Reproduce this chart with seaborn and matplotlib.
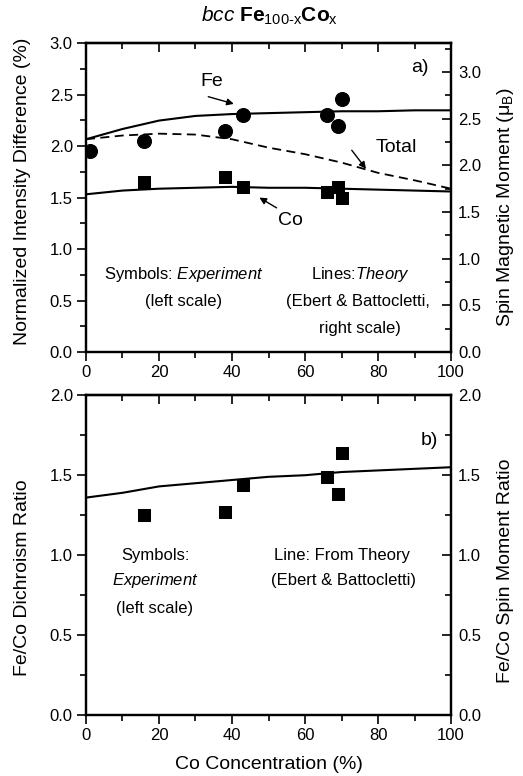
import matplotlib
matplotlib.use('Agg')
import matplotlib.pyplot as plt
import seaborn as sns
from matplotlib.ticker import MultipleLocator

fe_x = [1, 16, 38, 43, 66, 69, 70]
fe_exp = [1.95, 2.05, 2.15, 2.30, 2.30, 2.20, 2.46]
co_x = [16, 38, 43, 66, 69, 70]
co_exp = [1.65, 1.70, 1.60, 1.55, 1.60, 1.50]

# Teoria (escala direita)
x_teo = [0, 10, 20, 30, 40, 50, 60, 70, 80, 90, 100]
fe_teo = [2.28, 2.39, 2.48, 2.53, 2.55, 2.56, 2.57, 2.58, 2.58, 2.59, 2.59]
co_teo = [1.69, 1.73, 1.75, 1.76, 1.77, 1.76, 1.76, 1.75, 1.74, 1.73, 1.72]
total_teo = [2.28, 2.32, 2.34, 2.33, 2.28, 2.19, 2.12, 2.03, 1.92, 1.84, 1.75]

# Painel b: razão Fe/Co
ratio_x = [16, 38, 43, 66, 69, 70]
ratio_exp = [1.25, 1.27, 1.44, 1.49, 1.38, 1.64]
ratio_teo = [1.36, 1.39, 1.43, 1.45, 1.47, 1.49, 1.50, 1.52, 1.53, 1.54, 1.55]

sns.set_style('ticks')
plt.rcParams['font.family'] = ['Liberation Sans', 'DejaVu Sans']
plt.rcParams['mathtext.fontset'] = 'custom'
plt.rcParams['mathtext.rm'] = 'Liberation Sans'
plt.rcParams['mathtext.it'] = 'Liberation Sans:italic'
plt.rcParams['mathtext.bf'] = 'Liberation Sans:bold'
for k in ['text.color', 'axes.labelcolor', 'xtick.color', 'ytick.color', 'axes.edgecolor']:
    plt.rcParams[k] = 'black'

fig = plt.figure(figsize=(5.23, 7.76), dpi=100)
ax1 = fig.add_axes([0.1644, 0.5464, 0.698, 0.398])
ax3 = fig.add_axes([0.1644, 0.0786, 0.698, 0.412])


def estilo(ax, axd, ymax_l, ymax_r):
    ax.set_xlim(0, 100)
    ax.set_ylim(0, ymax_l)
    axd.set_ylim(0, ymax_r)
    ax.xaxis.set_major_locator(MultipleLocator(20))
    ax.xaxis.set_minor_locator(MultipleLocator(10))
    for a in (ax, axd):
        a.yaxis.set_major_locator(MultipleLocator(0.5))
        a.yaxis.set_minor_locator(MultipleLocator(0.25))
        a.yaxis.set_major_formatter(plt.FormatStrFormatter('%.1f'))
        for s in a.spines.values():
            s.set_linewidth(1.6)
    ax.tick_params(axis='both', which='both', direction='out', width=1.2,
                   labelsize=12, left=True, bottom=True, top=False, right=False, pad=3)
    ax.tick_params(which='major', length=6.5)
    ax.tick_params(which='minor', length=4)
    axd.tick_params(axis='y', which='both', direction='in', width=1.2, labelsize=12, pad=5)
    axd.tick_params(which='major', length=6.5)
    axd.tick_params(which='minor', length=4)
    topo = ax.secondary_xaxis('top')
    topo.xaxis.set_major_locator(MultipleLocator(20))
    topo.xaxis.set_minor_locator(MultipleLocator(10))
    topo.tick_params(which='both', direction='in', labeltop=False, width=1.2)
    topo.tick_params(which='major', length=6.5)
    topo.tick_params(which='minor', length=4)
    topo.spines['top'].set_linewidth(1.6)


# Painel a
sns.scatterplot(x=fe_x, y=fe_exp, marker='o', s=100, color='black',
                edgecolor='black', ax=ax1, zorder=3)
sns.scatterplot(x=co_x, y=co_exp, marker='s', s=85, color='black',
                edgecolor='black', ax=ax1, zorder=3)
ax2 = ax1.twinx()
sns.lineplot(x=x_teo, y=fe_teo, color='black', lw=1.5, ax=ax2)
sns.lineplot(x=x_teo, y=co_teo, color='black', lw=1.5, ax=ax2)
sns.lineplot(x=x_teo, y=total_teo, color='black', lw=1.3, ax=ax2, linestyle=(0, (5, 3)))
estilo(ax1, ax2, 3.0, 3.31)
ax1.tick_params(labelbottom=True)

ax1.set_ylabel('Normalized Intensity Difference (%)', fontsize=14)
ax2.set_ylabel('Spin Magnetic Moment (μ$_\\mathrm{B}$)', fontsize=14)
ax1.yaxis.set_label_coords(-0.15, 0.52)
ax2.yaxis.set_label_coords(1.12, 0.47)
ax1.set_xlabel('')

seta = dict(arrowstyle='-|>', color='black', lw=1, mutation_scale=10, shrinkA=0, shrinkB=0)
ax1.text(34.4, 2.63, 'Fe', fontsize=14, ha='center', va='center')
ax1.annotate('', xy=(40.5, 2.41), xytext=(33.5, 2.48), arrowprops=seta)
ax1.text(85.1, 1.99, 'Total', fontsize=14, ha='center', va='center')
ax1.annotate('', xy=(76.7, 1.78), xytext=(72.8, 1.96), arrowprops=seta)
ax1.text(55.9, 1.28, 'Co', fontsize=14, ha='center', va='center')
ax1.annotate('', xy=(47.5, 1.50), xytext=(52.2, 1.40), arrowprops=seta)
ax1.text(91.5, 2.76, 'a)', fontsize=14, ha='center', va='center')

ax1.text(26.7, 0.75, 'Symbols: $\\mathit{Experiment}$', fontsize=12, ha='center', va='center')
ax1.text(26.7, 0.49, '(left scale)', fontsize=12, ha='center', va='center')
ax1.text(75.1, 0.75, 'Lines:$\\mathit{Theory}$', fontsize=12, ha='center', va='center')
ax1.text(74.6, 0.49, '(Ebert & Battocletti,', fontsize=12, ha='center', va='center')
ax1.text(75.1, 0.23, 'right scale)', fontsize=12, ha='center', va='center')

# Painel b
sns.scatterplot(x=ratio_x, y=ratio_exp, marker='s', s=85, color='black',
                edgecolor='black', ax=ax3, zorder=3)
ax4 = ax3.twinx()
sns.lineplot(x=x_teo, y=ratio_teo, color='black', lw=1.5, ax=ax4)
estilo(ax3, ax4, 2.0, 2.0)

ax3.set_ylabel('Fe/Co Dichroism Ratio', fontsize=14)
ax4.set_ylabel('Fe/Co Spin Moment Ratio', fontsize=14)
ax3.yaxis.set_label_coords(-0.15, 0.43)
ax4.yaxis.set_label_coords(1.125, 0.45)
ax3.set_xlabel('Co Concentration (%)', fontsize=14, labelpad=9)

ax3.text(94.2, 1.72, 'b)', fontsize=14, ha='center', va='center')
ax3.text(18.9, 1.0, 'Symbols:', fontsize=12, ha='center', va='center')
ax3.text(19.1, 0.84, '$\\mathit{Experiment}$', fontsize=12, ha='center', va='center')
ax3.text(18.7, 0.667, '(left scale)', fontsize=12, ha='center', va='center')
ax3.text(70.1, 1.0, 'Line: From Theory', fontsize=12, ha='center', va='center')
ax3.text(70.5, 0.84, '(Ebert & Battocletti)', fontsize=12, ha='center', va='center')

fig.text(270 / 523, 1 - 16 / 776,
         '$\\mathit{bcc}$ $\\mathbf{Fe}_{\\text{100-x}}\\mathbf{Co}_{\\text{x}}$',
         fontsize=15, ha='center', va='center')

fig.savefig('out.png', dpi=100)
